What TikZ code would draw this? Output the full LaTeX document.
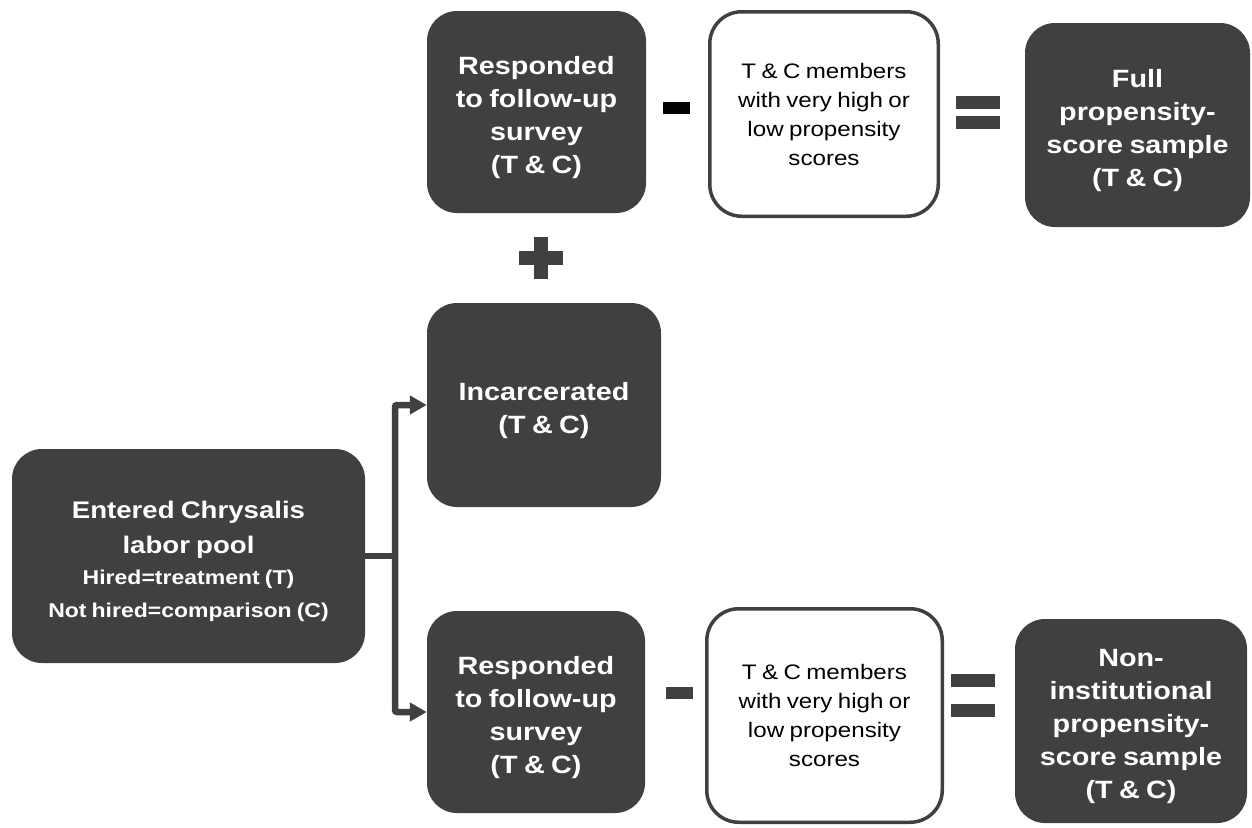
\documentclass[tikz,border=0pt]{standalone}
\usepackage{fontspec}
\setmainfont{Liberation Sans}[FakeStretch=1.15,WordSpace=0.8]
\usetikzlibrary{arrows.meta}
\definecolor{boxgray}{HTML}{404040}
\newcommand\dropline{\rule{0pt}{29pt}}
\begin{document}
\begin{tikzpicture}[x=1pt,y=-1pt,
  darkbox/.style={fill=boxgray, draw=none, rounded corners=30pt, text=white, align=center, inner sep=0pt, font=\bfseries\fontsize{25}{33}\selectfont},
  whitebox/.style={fill=white, draw=boxgray, line width=3.5pt, rounded corners=32pt, text=black, align=center, inner sep=0pt, font=\fontsize{21}{29}\selectfont},
  stem/.style={draw=boxgray, line width=6.5pt},
  flow/.style={draw=boxgray, line width=6.5pt, rounded corners=2pt, -{Triangle[length=17pt,width=18pt]}},
  opsign/.style={fill=boxgray},
  opblack/.style={fill=black}
]
\useasboundingbox (0,0) rectangle (1252,827);

% top row
\node[darkbox, minimum width=219pt, minimum height=202pt] (resp1) at (536.5,112)
  {\dropline Responded\\to follow-up\\survey\\(T \& C)};
\node[whitebox, minimum width=228.5pt, minimum height=204.5pt] (w1) at (824,114)
  {T \& C members\\with very high or\\low propensity\\scores};
\node[darkbox, minimum width=225pt, minimum height=204pt] (full) at (1137.5,125)
  {\dropline Full\\propensity-\\score sample\\(T \& C)};

% middle
\node[darkbox, minimum width=234pt, minimum height=204pt] (incar) at (544,405)
  {\dropline Incarcerated\\(T \& C)};
\node[darkbox, minimum width=353pt, minimum height=214pt, font=\bfseries\fontsize{24}{35}\selectfont] (entered) at (188.5,556)
  {\rule{0pt}{28pt}Entered Chrysalis\\labor pool\\[-4pt]
   \fontsize{20}{31}\selectfont Hired=treatment (T)\\[-2pt]
   \fontsize{20}{31}\selectfont Not hired=comparison (C)};

% bottom row
\node[darkbox, minimum width=218pt, minimum height=202pt] (resp2) at (536,712)
  {\dropline Responded\\to follow-up\\survey\\(T \& C)};
\node[whitebox, minimum width=235.5pt, minimum height=213.5pt] (w2) at (824.5,715.5)
  {T \& C members\\with very high or\\low propensity\\scores};
\node[darkbox, minimum width=232pt, minimum height=204pt] (noninst) at (1131,721)
  {\dropline Non-\\institutional\\propensity-\\score sample\\(T \& C)};

% connectors
\coordinate (split) at (395,556);
\draw[stem] (entered.east) -- (split);
\draw[flow] (split) |- (incar.west);
\draw[flow] (split) |- (resp2.west);

% operator signs
\fill[opblack] (663,102) rectangle (690,114);
\fill[opsign] (956,96) rectangle (1000,109);
\fill[opsign] (956,116) rectangle (1000,129);
\fill[opsign] (534,237) rectangle (548,279);
\fill[opsign] (519,251) rectangle (563,265);
\fill[opsign] (666,687) rectangle (693,699);
\fill[opsign] (951,674) rectangle (995,687);
\fill[opsign] (951,704) rectangle (995,717);
\end{tikzpicture}
\end{document}
